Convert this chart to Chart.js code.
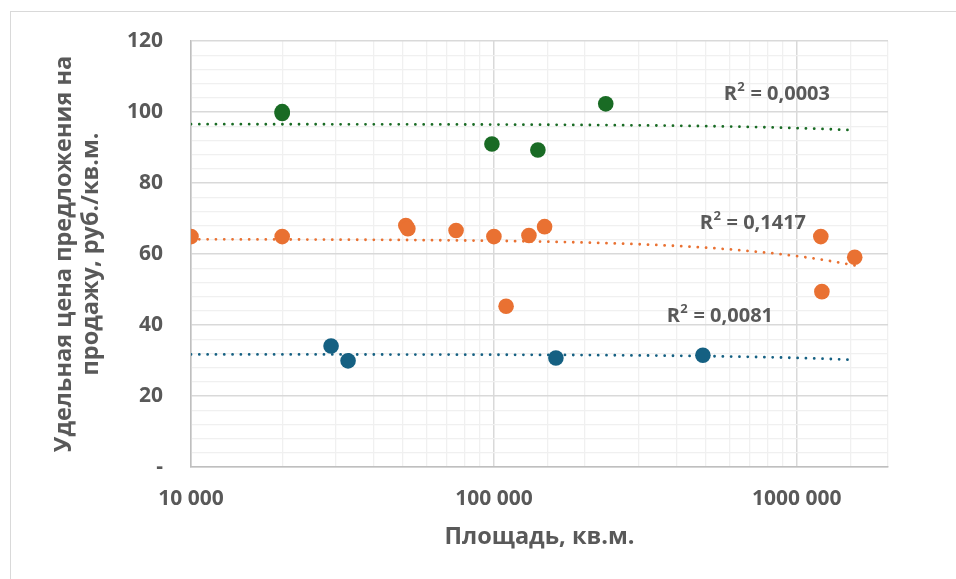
<!DOCTYPE html>
<html>
<head>
<meta charset="utf-8">
<script src="https://cdn.jsdelivr.net/npm/chart.js@4.4.1/dist/chart.umd.min.js"></script>
<style>
  html, body { margin:0; padding:0; background:#fff; width:956px; height:579px; overflow:hidden; }
  #frame { position:absolute; left:10px; top:11px; width:1000px; height:620px; border:1.5px solid #d9d9d9; box-sizing:border-box; }
  #c { position:absolute; left:0; top:0; }
</style>
</head>
<body>
<div id="frame"></div>
<canvas id="c" width="956" height="579"></canvas>
<script>
// ---- data ----
const greenX  = [20000, 20000, 98500, 139700, 234000];
const greenY  = [100.1, 99.6, 91.0, 89.3, 102.3];
const orangeX = [10000, 20000, 51200, 52000, 75000, 100000, 109700, 130500, 147000, 1200000, 1210000, 1553000];
const orangeY = [64.9, 64.9, 68.0, 67.1, 66.6, 64.9, 45.3, 65.2, 67.7, 64.9, 49.4, 59.1];
const blueX   = [29000, 33000, 160200, 489700];
const blueY   = [34.1, 29.9, 30.7, 31.5];

const xTickValues = [10000, 100000, 1000000];
const xTickLabels = ['10 000', '100 000', '1000 000'];
const yTickValues = [0, 20, 40, 60, 80, 100, 120];
const yTickLabels = ['-', '20', '40', '60', '80', '100', '120'];

const r2Texts = ['0,0003', '0,1417', '0,0081'];
const r2AnchorX = [859000, 716000, 557000];
const r2AnchorY = [105.1, 68.7, 42.5];

const xTitle = 'Площадь, кв.м.';
const yTitle = ['Удельная цена предложения на', 'продажу, руб./кв.м.'];

const colors = { green:'#196B24', orange:'#E97132', blue:'#156082' };
const FONT = '"Open Sans", Roboto, sans-serif';
const TXT = '#595959';

// ---- linear least squares trendline (as Excel "linear" trendline) ----
function fit(xs, ys) {
  const n = xs.length;
  const mx = xs.reduce((a,b)=>a+b,0)/n, my = ys.reduce((a,b)=>a+b,0)/n;
  let sxy=0, sxx=0;
  for (let i=0;i<n;i++){ sxy+=(xs[i]-mx)*(ys[i]-my); sxx+=(xs[i]-mx)**2; }
  const b = sxy/sxx; return { a: my - b*mx, b };
}
const allX = greenX.concat(orangeX, blueX);
const tMin = Math.min(...allX), tMax = Math.max(...allX);
function trend(xs, ys) {
  const f = fit(xs, ys); const pts = [];
  const l0 = Math.log10(tMin), l1 = Math.log10(tMax), N = 120;
  for (let i=0;i<=N;i++){ const x = Math.pow(10, l0 + (l1-l0)*i/N); pts.push({x, y: f.a + f.b*x}); }
  return pts;
}
const toPts = (xs, ys) => xs.map((x,i)=>({x, y: ys[i]}));

function trendDs(xs, ys, col) {
  return { type:'line', data: trend(xs, ys), borderColor: col, borderWidth: 2.8,
    borderDash: [0.01, 8.3], borderCapStyle: 'round', pointRadius: 0, fill: false, tension: 0, order: 2 };
}
function scatterDs(xs, ys, col) {
  return { type:'scatter', data: toPts(xs, ys), backgroundColor: col, borderColor: col,
    borderWidth: 0, pointRadius: 7.8, pointHoverRadius: 7.8, order: 1 };
}

const isPow10 = v => Math.abs(Math.log10(v) - Math.round(Math.log10(v))) < 1e-9;

const r2Plugin = {
  id: 'r2',
  afterDatasetsDraw(chart) {
    const {ctx, scales:{x, y}} = chart;
    ctx.save();
    ctx.fillStyle = TXT;
    ctx.textBaseline = 'middle';
    const big = 'bold 20px ' + FONT, small = 'bold 13px ' + FONT;
    for (let i=0;i<r2Texts.length;i++){
      const px = x.getPixelForValue(r2AnchorX[i]), py = y.getPixelForValue(r2AnchorY[i]);
      ctx.font = big;
      const wR = ctx.measureText('R').width;
      const rest = ' = ' + r2Texts[i];
      const wRest = ctx.measureText(rest).width;
      ctx.font = small;
      const w2 = ctx.measureText('2').width;
      const total = wR + w2 + 1 + wRest;
      const sx = px - total/2;
      ctx.textAlign = 'left';
      ctx.font = big;
      ctx.fillText('R', sx, py);
      ctx.font = small;
      ctx.fillText('2', sx + wR + 0.5, py - 7);
      ctx.font = big;
      ctx.fillText(rest, sx + wR + w2 + 1, py);
    }
    ctx.restore();
  }
};

new Chart(document.getElementById('c'), {
  data: {
    datasets: [
      scatterDs(greenX, greenY, colors.green),
      scatterDs(orangeX, orangeY, colors.orange),
      scatterDs(blueX, blueY, colors.blue),
      trendDs(greenX, greenY, colors.green),
      trendDs(orangeX, orangeY, colors.orange),
      trendDs(blueX, blueY, colors.blue),
    ]
  },
  options: {
    responsive: false, animation: false, devicePixelRatio: 1,
    layout: { padding: { left: 51, top: 41, right: 68, bottom: 28 } },
    plugins: { legend: { display: false }, tooltip: { enabled: false } },
    scales: {
      x: {
        type: 'logarithmic', min: 10000, max: 2000000,
        afterFit: s => { s.height = 579 - 467 - 28; },
        border: { display: true, color: '#bfbfbf', width: 1.5 },
        grid: { drawTicks: false,
          color: c => (c.tick && isPow10(c.tick.value)) ? '#d9d9d9' : '#f0f0f0',
          lineWidth: c => (c.tick && isPow10(c.tick.value)) ? 1.5 : 1.3 },
        ticks: { autoSkip: false, maxRotation: 0, padding: 19, color: TXT,
          font: { family: FONT, size: 21, weight: 'bold' },
          callback: v => { const i = xTickValues.findIndex(t => Math.abs(t - v) < 1e-6); return i >= 0 ? xTickLabels[i] : ''; } },
        title: { display: true, text: xTitle, color: TXT, padding: 0,
          font: { family: FONT, size: 23.5, weight: 'bold', lineHeight: 1.15 } }
      },
      y: {
        type: 'linear', min: 0, max: 120,
        afterFit: s => { s.width = 191 - 51; },
        border: { display: true, color: '#bfbfbf', width: 1.5 },
        grid: { drawTicks: false,
          color: c => (c.tick && c.tick.value % 20 === 0) ? '#d9d9d9' : '#f0f0f0',
          lineWidth: c => (c.tick && c.tick.value % 20 === 0) ? 1.5 : 1.3 },
        ticks: { stepSize: 4, padding: 28, color: TXT, autoSkip: false,
          font: { family: FONT, size: 21, weight: 'bold' },
          callback: v => { const i = yTickValues.indexOf(Math.round(v)); return (i >= 0 && Math.abs(v - Math.round(v)) < 1e-6) ? yTickLabels[i] : ''; } },
        title: { display: true, text: yTitle, color: TXT, padding: 0,
          font: { family: FONT, size: 23.5, weight: 'bold', lineHeight: 1.15 } }
      }
    }
  },
  plugins: [r2Plugin]
});
</script>
</body>
</html>
